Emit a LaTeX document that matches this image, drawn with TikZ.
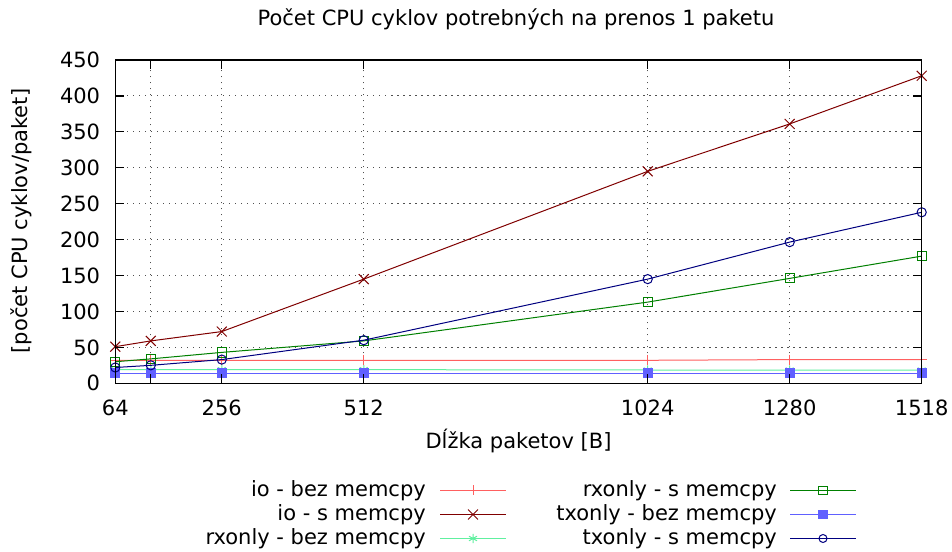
\documentclass[tikz,border=0pt]{standalone}
\usepackage{fontspec}
\setmainfont{DejaVu Sans}
\usetikzlibrary{plotmarks}

\definecolor{iobez}{RGB}{255,96,96}
\definecolor{ios}{RGB}{128,0,0}
\definecolor{rxbez}{RGB}{96,240,160}
\definecolor{rxs}{RGB}{0,128,0}
\definecolor{txbez}{RGB}{96,96,255}
\definecolor{txs}{RGB}{0,0,128}
\definecolor{gridc}{RGB}{80,80,80}

\tikzset{
  series/.style={line width=1pt, mark size=4.6pt, mark options={solid, line width=1pt}},
  xmk/.style={mark=x, mark size=7pt},
  plusmk/.style={mark=+, mark size=5pt},
  starmk/.style={mark=asterisk, mark size=4.6pt},
  gridline/.style={gridc, line width=0.9pt, dash pattern=on 1.2pt off 4.8pt},
  frameline/.style={black, line width=1.3pt},
  ticklab/.style={inner sep=0pt},
  legtext/.style={anchor=east, inner sep=0pt},
}

\begin{document}
\begin{tikzpicture}[x=1pt, y=1pt, font=\fontsize{21}{25}\selectfont]
\useasboundingbox (0,0) rectangle (952,551);
\fill[white] (0,0) rectangle (952,551);

% title and axis titles
\node (title) at (516,532) {Počet CPU cyklov potrebných na prenos 1 paketu};
\node (xtitle) at (518.5,110) {Dĺžka paketov [B]};
\node[rotate=90] (ytitle) at (21,330) {[počet CPU cyklov/paket]};

% plot area: x from 64 to 1518, y from 0 to 450
\begin{scope}[shift={(79.8pt,167.7pt)}, x=0.5546pt, y=0.7185pt]
  % grid
  \foreach \v in {50,100,...,400}
    \draw[gridline] (64,\v) -- (1518,\v);
  \foreach \u in {128,256,512,1024,1280}
    \draw[gridline] (\u,0) -- (\u,450);

  % data series
  \draw[series, iobez, plusmk] plot coordinates
    {(64,32) (128,32) (256,32) (512,32) (1024,32) (1280,33) (1518,33)};
  \draw[series, ios, xmk] plot coordinates
    {(64,51) (128,59) (256,72) (512,145) (1024,295) (1280,361) (1518,428)};
  \draw[series, rxbez, starmk] plot coordinates
    {(64,19) (128,19) (256,19) (512,19) (1024,18.5) (1280,18.5) (1518,18.5)};
  \draw[series, rxs, mark=square] plot coordinates
    {(64,30) (128,34) (256,43) (512,59) (1024,113) (1280,146) (1518,177)};
  \draw[series, txbez, mark=square*, mark options={fill=txbez}] plot coordinates
    {(64,14) (128,14) (256,14) (512,14) (1024,14) (1280,14) (1518,14)};
  \draw[series, txs, mark=o] plot coordinates
    {(64,22) (128,25) (256,33) (512,60) (1024,145) (1280,196.5) (1518,238)};

  % frame and ticks
  \draw[frameline] (64,0) rectangle (1518,450);
  \foreach \v in {0,50,...,450} {
    \draw[frameline] (64,\v) -- ++(9pt,0);
    \draw[frameline] (1518,\v) -- ++(-9pt,0);
    \node[ticklab, anchor=east, xshift=-15pt] at (64,\v) {\v};
  }
  \foreach \u in {128,256,512,1024,1280} {
    \draw[frameline] (\u,0) -- ++(0,9pt);
    \draw[frameline] (\u,450) -- ++(0,-9pt);
  }
  \foreach \u in {64,256,512,1024,1280,1518}
    \node[ticklab, yshift=-24.5pt] at (\u,0) {\u};
\end{scope}

% legend, left column
\node[legtext] (l1) at (426,60.5) {io - bez memcpy};
\draw[series, iobez] (440,60.5) -- (506,60.5);
\draw[series, iobez, plusmk] plot coordinates {(473,60.5)};
\node[legtext] (l2) at (426,36.5) {io - s memcpy};
\draw[series, ios] (440,36.5) -- (506,36.5);
\draw[series, ios, xmk] plot coordinates {(473,36.5)};
\node[legtext] (l3) at (426,12.5) {rxonly - bez memcpy};
\draw[series, rxbez] (440,12.5) -- (506,12.5);
\draw[series, rxbez, starmk] plot coordinates {(473,12.5)};

% legend, right column
\node[legtext] (r1) at (777,60.5) {rxonly - s memcpy};
\draw[series, rxs] (790,60.5) -- (856,60.5);
\draw[series, rxs, mark=square, mark size=4.3pt] plot coordinates {(823,60.5)};
\node[legtext] (r2) at (777,36.5) {txonly - bez memcpy};
\draw[series, txbez] (790,36.5) -- (856,36.5);
\draw[series, txbez, mark=square*, mark size=4.3pt, mark options={fill=txbez}] plot coordinates {(823,36.5)};
\node[legtext] (r3) at (777,12.5) {txonly - s memcpy};
\draw[series, txs] (790,12.5) -- (856,12.5);
\draw[series, txs, mark=o, mark size=4pt] plot coordinates {(823,12.5)};
\end{tikzpicture}
\end{document}
